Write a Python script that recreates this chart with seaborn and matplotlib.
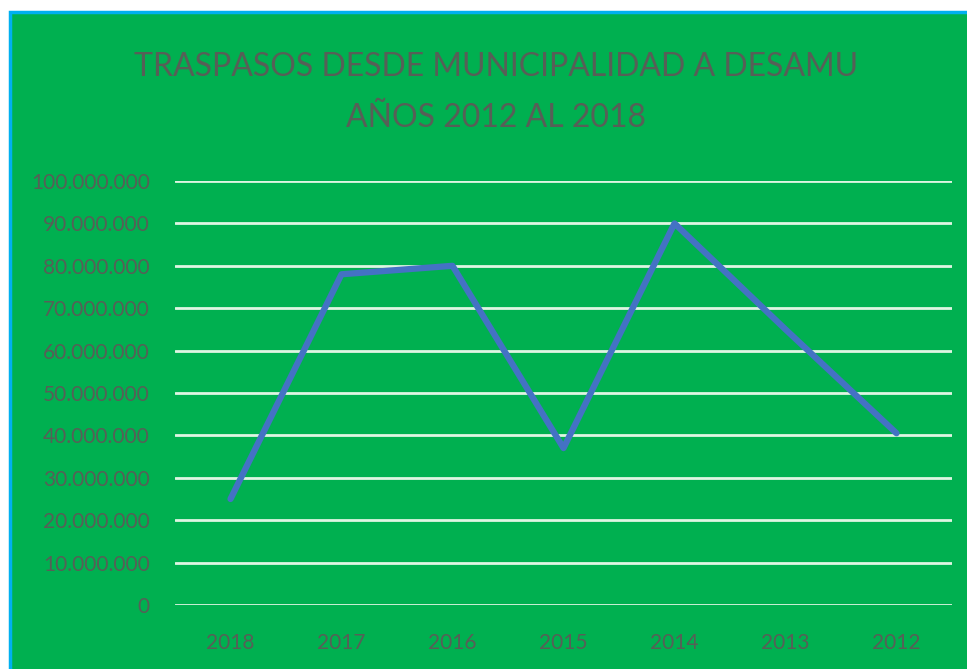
import matplotlib
matplotlib.use("Agg")
import matplotlib.pyplot as plt
import matplotlib.patches as mpatches
from matplotlib.ticker import FuncFormatter, MultipleLocator
import seaborn as sns
import pandas as pd

years = ["2018", "2017", "2016", "2015", "2014", "2013", "2012"]
traspasos = [25_000_000, 78_000_000, 80_000_000, 37_000_000, 90_000_000, 65_000_000, 40_500_000]
title_lines = ["TRASPASOS DESDE MUNICIPALIDAD A DESAMU", "AÑOS 2012 AL 2018"]

df = pd.DataFrame({"year": years, "value": traspasos})

sns.set_theme(style="white")
plt.rcParams["font.family"] = ["Lato", "DejaVu Sans"]

W, H = 967, 669
fig = plt.figure(figsize=(W / 100, H / 100), dpi=100)
fig.patch.set_facecolor("white")

GREEN = "#00b050"
BLUE_BORDER = "#00b0f0"
TEXT = "#575f57"

# chart area background with blue border (top/left visible)
bg_ax = fig.add_axes([0, 0, 1, 1], zorder=-10)
bg_ax.set_axis_off()
bg_ax.set_xlim(0, 1)
bg_ax.set_ylim(0, 1)
bg_ax.add_patch(mpatches.Rectangle((10 / W, -0.05), 1.1, (669 - 12) / H + 0.05,
                                   facecolor=GREEN, edgecolor=BLUE_BORDER,
                                   linewidth=2.5, clip_on=False))

ax = fig.add_axes([175 / W, 1 - 605 / H, (952 - 175) / W, (605 - 181) / H], zorder=1)
ax.patch.set_alpha(0)

sns.lineplot(data=df, x="year", y="value", ax=ax, color="#4472c4",
             linewidth=4.5, sort=False, legend=False)

ax.set_xlim(-0.5, len(years) - 0.5)
ax.set_ylim(0, 100_000_000)
ax.yaxis.set_major_locator(MultipleLocator(10_000_000))
ax.yaxis.set_major_formatter(FuncFormatter(lambda v, p: f"{int(v):,}".replace(",", ".")))
ax.grid(axis="y", color="#dff5e2", linewidth=2.0)
ax.grid(axis="x", visible=False)
ax.set_axisbelow(True)
for s in ax.spines.values():
    s.set_visible(False)
ax.set_xlabel("")
ax.set_ylabel("")
ax.tick_params(axis="both", length=0, labelsize=15, labelcolor=TEXT)
ax.tick_params(axis="y", pad=18)
ax.tick_params(axis="x", pad=20)

fig.text(496 / W, 1 - 67 / H, title_lines[0], ha="center", va="center",
         fontsize=23, color=TEXT)
fig.text(496 / W, 1 - 118 / H, title_lines[1], ha="center", va="center",
         fontsize=23, color=TEXT)

fig.savefig("out.png", dpi=100, facecolor=fig.get_facecolor())
